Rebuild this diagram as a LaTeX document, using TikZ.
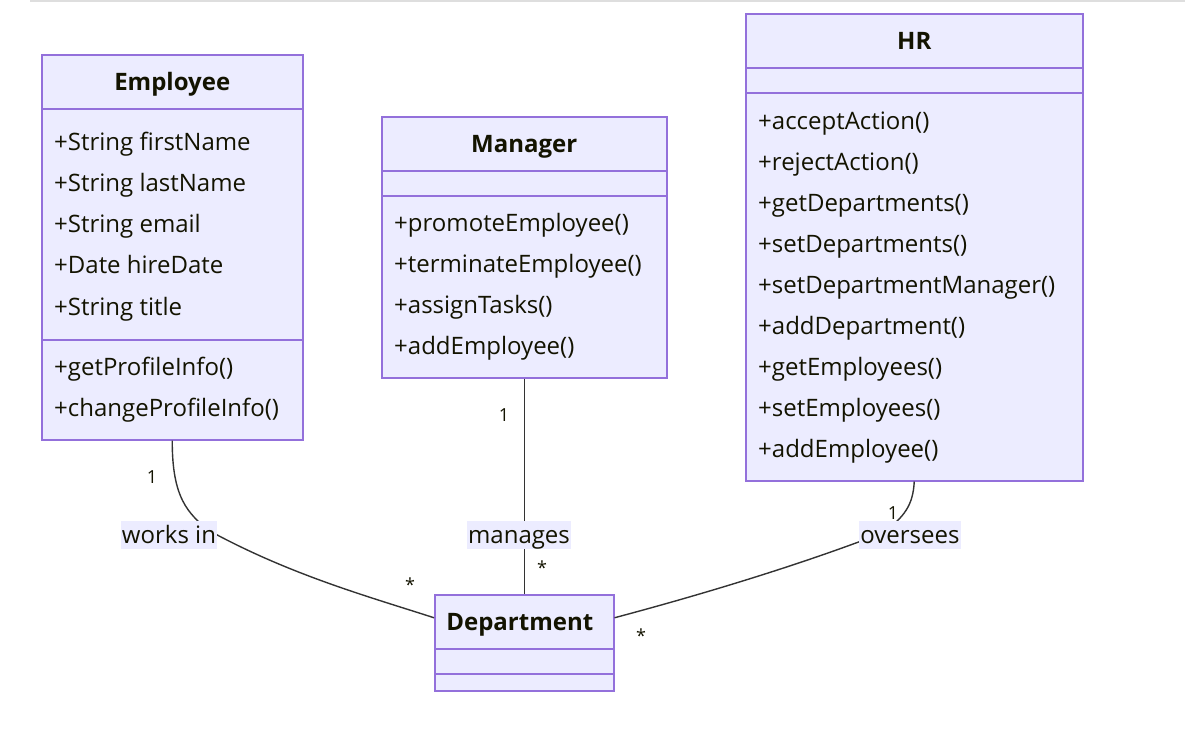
\documentclass[tikz,border=0pt]{standalone}
\usepackage{fontspec}
\setmainfont{Open Sans}
\usetikzlibrary{positioning}
\definecolor{umlfill}{HTML}{ECECFF}
\definecolor{umlborder}{HTML}{9370DB}
\definecolor{umlline}{HTML}{333333}
\definecolor{umltext}{HTML}{131300}
\tikzset{
  compart/.style={draw=umlborder,fill=umlfill,line width=1.5pt,anchor=north west,
    inner sep=0pt,text=umltext,text height=24pt,text depth=6pt,
    font=\fontsize{24}{28}\selectfont\bfseries},
  blank/.style={compart,text height=0pt,text depth=0pt},
  member/.style={anchor=west,inner sep=0pt,text=umltext,text height=24pt,text depth=6pt,
    font=\fontsize{24}{28}\selectfont},
  assoc/.style={draw=umlline,line width=1.4pt},
  edgelab/.style={fill=umlfill,inner xsep=1pt,inner ysep=1.5pt,text=umltext,
    text height=21pt,text depth=4pt,font=\fontsize{24}{28}\selectfont},
  mult/.style={inner sep=0pt,text=umltext,font=\fontsize{18}{20}\selectfont}
}
\begin{document}
\begin{tikzpicture}[x=1pt,y=-1pt]
  \useasboundingbox (0,0) rectangle (1196,732);
  % Linie oben
  \draw[black!13,line width=1.5pt] (30,1) -- (1185,1);

  % Employee
  \node[compart,minimum width=261,minimum height=54] (emp) at (41,54) {Employee};
  \node[blank,minimum width=261,minimum height=231] (empattr) at (41,108) {};
  \node[blank,minimum width=261,minimum height=100] (empmeth) at (41,339) {};
  \foreach \m [count=\i from 0] in {+String firstName,+String lastName,+String email,+Date hireDate,+String title}
    \node[member] (emp-a\i) at (54,{141+41.25*\i}) {\m};
  \foreach \m [count=\i from 0] in {+getProfileInfo(),+changeProfileInfo()}
    \node[member] (emp-m\i) at (54,{366+41*\i}) {\m};

  % Manager
  \node[compart,minimum width=285,minimum height=54] (mgr) at (381,116) {Manager};
  \node[blank,minimum width=285,minimum height=25] (mgrattr) at (381,170) {};
  \node[blank,minimum width=285,minimum height=182] (mgrmeth) at (381,195) {};
  \foreach \m [count=\i from 0] in {+promoteEmployee(),+terminateEmployee(),+assignTasks(),+addEmployee()}
    \node[member] (mgr-m\i) at (394,{222+41*\i}) {\m};

  % HR
  \node[compart,minimum width=337,minimum height=54] (hr) at (745,13) {HR};
  \node[blank,minimum width=337,minimum height=25] (hrattr) at (745,67) {};
  \node[blank,minimum width=337,minimum height=388] (hrmeth) at (745,92) {};
  \foreach \m [count=\i from 0] in {+acceptAction(),+rejectAction(),+getDepartments(),+setDepartments(),
      +setDepartmentManager(),+addDepartment(),+getEmployees(),+setEmployees(),+addEmployee()}
    \node[member] (hr-m\i) at (758,{120+41*\i}) {\m};

  % Department
  \node[compart,minimum width=179,minimum height=54] (dep) at (434,594) {Department\hspace*{9pt}};
  \node[blank,minimum width=179,minimum height=25] (depattr) at (434,648) {};
  \node[blank,minimum width=179,minimum height=17] (depmeth) at (434,673) {};

  % Beziehungen
  \coordinate (wbend) at (208,530);
  \coordinate (obend) at (885,532);
  \draw[assoc] (empmeth.south) .. controls (172,498) and (188,513) .. (wbend)
    .. controls (290,575) and (370,597) .. ([yshift=4pt]dep.west);
  \draw[assoc] (mgrmeth.south) -- (dep.north);
  \draw[assoc] (hrmeth.south) .. controls (913,506) and (904,516) .. (obend)
    .. controls (800,565) and (700,595) .. ([yshift=4pt]dep.east);

  % Beschriftungen
  \node[edgelab] (works) at (169,535) {works in};
  \node[edgelab] (manages) at (519,535) {manages};
  \node[edgelab] (oversees) at (910,535) {oversees};
  \node[mult] (emp-one) at (152,477) {1};
  \node[mult] (emp-many) at (410,585) {*};
  \node[mult] (mgr-one) at (504,415) {1};
  \node[mult] (mgr-many) at (542,568) {*};
  \node[mult] (hr-one) at (893,513) {1};
  \node[mult] (hr-many) at (641,636) {*};
\end{tikzpicture}
\end{document}
